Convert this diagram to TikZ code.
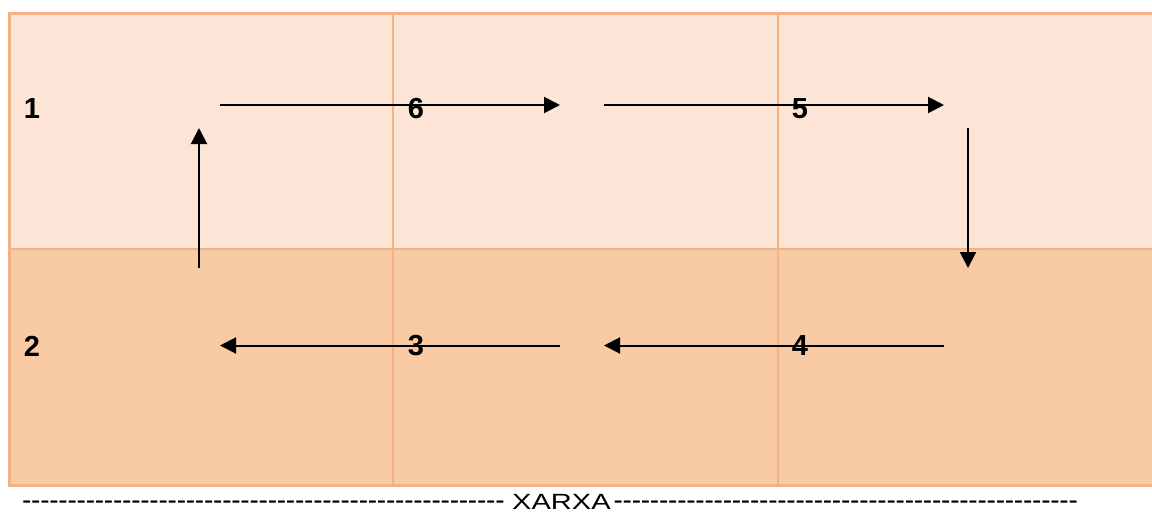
\documentclass[tikz,border=0pt]{standalone}
\usepackage{fontspec}
\setmainfont{Liberation Sans}
\usetikzlibrary{arrows.meta}
\definecolor{topfill}{HTML}{FCE4D6}
\definecolor{botfill}{HTML}{F9CBA5}
\definecolor{gridline}{HTML}{F4B183}
\tikzset{
  cell/.style={draw=gridline, line width=2pt, minimum width=#1, minimum height=236pt, anchor=north west, inner sep=0pt, outer sep=0pt},
  numlabel/.style={font=\fontsize{29}{30}\selectfont\bfseries, inner sep=0pt},
  flow/.style={line width=2pt, -{Triangle[length=16pt,width=16pt]}},
}
\newcommand{\dashrun}[1]{\leaders\hbox to 9.1pt{\hss\fontsize{28}{30}\selectfont-\hss}\hskip #1}
\begin{document}
\begin{tikzpicture}[x=1pt,y=-1pt]
\useasboundingbox (0,0) rectangle (1152,514);
\clip (0,0) rectangle (1152,514);
% cells
\node[cell=384pt, fill=topfill] (c11) at (9,13) {};
\node[cell=385pt, fill=topfill] (c12) at (393,13) {};
\node[cell=390pt, fill=topfill] (c13) at (778,13) {};
\node[cell=384pt, fill=botfill] (c21) at (9,249) {};
\node[cell=385pt, fill=botfill] (c22) at (393,249) {};
\node[cell=390pt, fill=botfill] (c23) at (778,249) {};
\draw[gridline, line width=3pt] (1170,13) -- (9,13) -- (9,485) -- (1170,485);
% labels
\node[numlabel] (l1) at (32,109) {1};
\node[numlabel] (l2) at (32,346) {2};
\node[numlabel] (l6) at (416,109) {6};
\node[numlabel] (l5) at (800,109) {5};
\node[numlabel] (l3) at (416,346) {3};
\node[numlabel] (l4) at (800,346) {4};
% arrow end points
\coordinate (a1s) at (220,105);
\coordinate (a1e) at (560,105);
\coordinate (a2s) at (604,105);
\coordinate (a2e) at (944,105);
\coordinate (a3s) at (968,128);
\coordinate (a3e) at (968,268);
\coordinate (a4s) at (944,345.5);
\coordinate (a4e) at (604,345.5);
\coordinate (a5s) at (560,345.5);
\coordinate (a5e) at (220,345.5);
\coordinate (a6s) at (199,268);
\coordinate (a6e) at (199,128);
\draw[flow] (a1s) -- (a1e);
\draw[flow] (a2s) -- (a2e);
\draw[flow] (a3s) -- (a3e);
\draw[flow] (a4s) -- (a4e);
\draw[flow] (a5s) -- (a5e);
\draw[flow] (a6s) -- (a6e);
% bottom caption
\node[anchor=base west, inner sep=0pt, font=\fontsize{22}{26}\selectfont] (net) at (22,509)
  {\hbox{\dashrun{491pt}\kern-1pt\scalebox{1.32}[1]{XARXA}\kern-1pt\dashrun{473pt}}};
\end{tikzpicture}
\end{document}
